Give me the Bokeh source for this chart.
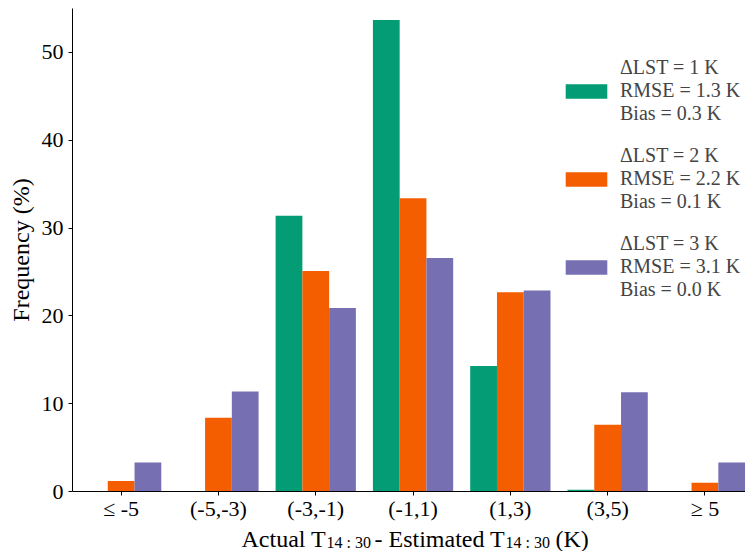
import numpy as np
from bokeh.plotting import figure
from bokeh.layouts import column
from bokeh.core.properties import value
from bokeh.models import Range1d, FixedTicker, Legend, LegendItem
from bokeh.embed import file_html
from bokeh.resources import INLINE

# ---- data ----
categories = ["\u2264 -5", "(-5,-3)", "(-3,-1)", "(-1,1)", "(1,3)", "(3,5)", "\u2265 5"]
freq_dlst1 = [0.0, 0.0, 31.4, 53.7, 14.3, 0.2, 0.0]
freq_dlst2 = [1.2, 8.4, 25.1, 33.4, 22.7, 7.6, 1.0]
freq_dlst3 = [3.3, 11.4, 20.9, 26.6, 22.9, 11.3, 3.3]
series_labels = [
    "\u0394LST = 1 K\nRMSE = 1.3 K\nBias = 0.3 K",
    "\u0394LST = 2 K\nRMSE = 2.2 K\nBias = 0.1 K",
    "\u0394LST = 3 K\nRMSE = 3.1 K\nBias = 0.0 K",
]
y_ticks = [0, 10, 20, 30, 40, 50]
y_label = "Frequency (%)"
# x-axis label pieces: (text, is_subscript)
x_label_parts = [("Actual T", False), ("14 : 30", True), ("- Estimated T", False),
                 ("14 : 30", True), ("(K)", False)]

colors = ["#039c74", "#f45e00", "#7670b3"]
FONT = "Liberation Serif"

W = 745
LEFT, TOP = 72, 8
MAIN_H, LABEL_H = 523, 28
AXIS_PANEL = 32
px_per_cat = 97.3
x_end = -0.5 + (W - LEFT) / px_per_cat
xr = Range1d(-0.5, x_end)

p_main = figure(width=W, height=MAIN_H, output_backend="svg", toolbar_location=None,
                x_range=xr, y_range=Range1d(0, 55),
                min_border_left=LEFT, min_border_right=0, min_border_top=TOP,
                min_border_bottom=AXIS_PANEL)
p_main.outline_line_color = None
p_main.xgrid.grid_line_color = None
p_main.ygrid.grid_line_color = None

xs = np.arange(len(categories))
width = 0.275
renderers = []
for vals, off, c in zip([freq_dlst1, freq_dlst2, freq_dlst3], [-width, 0.0, width], colors):
    r = p_main.vbar(x=xs + off, top=vals, bottom=0, width=width, fill_color=c, line_color=None)
    renderers.append(r)

# axes
p_main.xaxis.ticker = FixedTicker(ticks=list(xs))
p_main.xaxis.major_label_overrides = {int(i): c for i, c in zip(xs, categories)}
p_main.yaxis.ticker = FixedTicker(ticks=y_ticks)
for ax in (p_main.xaxis[0], p_main.yaxis[0]):
    ax.axis_line_color = "black"
    ax.axis_line_width = 1
    ax.major_tick_line_color = "black"
    ax.major_tick_in = 0
    ax.major_tick_out = 4
    ax.minor_tick_line_color = None
    ax.major_label_text_font = FONT
    ax.major_label_text_font_size = "22px"
    ax.major_label_text_color = "black"
    ax.major_label_standoff = 5
p_main.xaxis.major_label_standoff = 0
p_main.yaxis.axis_label = y_label
p_main.yaxis.axis_label_text_font = FONT
p_main.yaxis.axis_label_text_font_size = "24px"
p_main.yaxis.axis_label_text_font_style = "normal"
p_main.yaxis.axis_label_text_color = "black"
p_main.yaxis.axis_label_standoff = 5

legend = Legend(items=[LegendItem(label=l, renderers=[r]) for l, r in zip(series_labels, renderers)],
                location=(488, 190), padding=0, margin=0, spacing=19,
                glyph_width=52, glyph_height=18, label_standoff=8,
                label_text_font=FONT, label_text_font_size="20px",
                border_line_color=None, background_fill_alpha=0)
p_main.add_layout(legend)

# x-axis label strip (shares the x range), pieces placed with pixel offsets from the centre category
p_lab = figure(width=W, height=LABEL_H, output_backend="svg", toolbar_location=None,
               x_range=xr, y_range=Range1d(0, LABEL_H), x_axis_type=None, y_axis_type=None,
               min_border_left=LEFT, min_border_right=0, min_border_top=0, min_border_bottom=0)
p_lab.outline_line_color = None
p_lab.xgrid.grid_line_color = None
p_lab.ygrid.grid_line_color = None
starts = [241, 326, 374, 505, 555]
x_mid = 3.0
x_mid_screen = LEFT + (x_mid + 0.5) * px_per_cat
for (txt, sub), sx in zip(x_label_parts, starts):
    p_lab.text(x=[x_mid], y=[9 if sub else 13], text=[txt], x_offset=sx - x_mid_screen,
               text_font=value(FONT), text_font_size="16px" if sub else "24px",
               text_align="left", text_baseline="alphabetic", text_color="black")

p = column(p_main, p_lab, spacing=0)
open("out.html", "w").write(file_html(p, INLINE))
